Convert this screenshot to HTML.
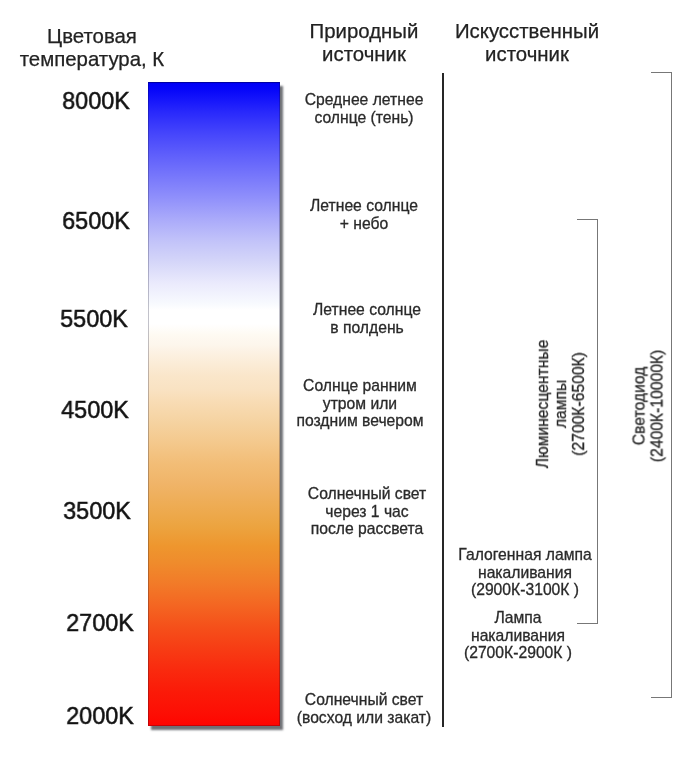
<!DOCTYPE html>
<html><head><meta charset="utf-8">
<style>
html,body{margin:0;padding:0;background:#fff;}
body{width:700px;height:776px;position:relative;overflow:hidden;font-family:"Liberation Sans",sans-serif;color:#1a1a1a;}
.t{will-change:transform;position:absolute;white-space:nowrap;text-align:center;transform:translateX(-50%);}
.h{font-size:20.4px;line-height:23px;color:#222;-webkit-text-stroke:0.25px #222;}
.k{font-size:23.5px;line-height:24px;color:#111;-webkit-text-stroke:0.5px #111;transform:translateX(-50%) scaleX(0.995);}
.m{font-size:15.7px;line-height:17.5px;color:#2a2a2a;-webkit-text-stroke:0.3px #2a2a2a;}
#bar{position:absolute;left:148px;top:82px;width:132px;height:644px;
 background:linear-gradient(to bottom,#0000f8 0px,#0404f9 6px,#1616fb 18px,#2a2afb 31px,#4646fb 52px,#6060fb 74px,#7878fb 95px,#9090fb 116px,#ababfa 138px,#c3c4f9 160px,#d6d7f9 181px,#eaeafc 201px,#f8fafe 222px,#ffffff 228px,#ffffff 242px,#fefaf2 253px,#fdf6ec 263px,#fcf0e0 273px,#fae6ca 294px,#f9e2c2 308px,#f8dcb4 320px,#f5d2a0 341px,#f4c88c 361px,#f2bd76 382px,#f0b468 402px,#eeac54 423px,#eca440 444px,#ee962e 464px,#ef8c2c 480px,#f27a28 502px,#f46622 523px,#f5501a 545px,#f73c14 567px,#f92a0e 588px,#fb1a08 610px,#fd0e04 632px,#ff0400 644px);
 box-shadow:inset 0 0 0 1px rgba(0,0,30,0.22), inset 0 1px 1px rgba(0,0,40,0.25), 3px 3.5px 2px rgba(55,58,65,0.72);}
#vl{position:absolute;left:441.7px;top:73px;width:2.2px;height:654px;background:#262626;}
.br{position:absolute;border:1.5px solid #777;border-left:none;box-sizing:border-box;}
.rot{will-change:transform;position:absolute;white-space:nowrap;text-align:center;transform:translate(-50%,-50%) rotate(-90deg);font-size:15.7px;line-height:17.5px;color:#2a2a2a;-webkit-text-stroke:0.3px #2a2a2a;}
</style></head><body>
<div class="t h" style="left:92px;top:25px;">Цветовая<br>температура, К</div>
<div class="t h" style="left:364px;top:20px;">Природный<br>источник</div>
<div class="t h" style="left:527px;top:20px;">Искусственный<br>источник</div>

<div id="bar"></div>
<div id="vl"></div>

<div class="t k" style="left:96px;top:89px;">8000K</div>
<div class="t k" style="left:96px;top:209px;">6500K</div>
<div class="t k" style="left:94px;top:307px;">5500K</div>
<div class="t k" style="left:95px;top:398px;">4500K</div>
<div class="t k" style="left:97px;top:499px;">3500K</div>
<div class="t k" style="left:100px;top:611px;">2700K</div>
<div class="t k" style="left:100px;top:704px;">2000K</div>

<div class="t m" style="left:364px;top:91px;">Среднее летнее<br>солнце (тень)</div>
<div class="t m" style="left:364px;top:197px;">Летнее солнце<br>+ небо</div>
<div class="t m" style="left:366.5px;top:300.5px;">Летнее солнце<br>в полдень</div>
<div class="t m" style="left:360px;top:377px;">Солнце ранним<br>утром или<br>поздним вечером</div>
<div class="t m" style="left:367px;top:485px;">Солнечный свет<br>через 1 час<br>после рассвета</div>
<div class="t m" style="left:364px;top:691px;">Солнечный свет<br>(восход или закат)</div>

<div class="t m" style="left:525px;top:546px;">Галогенная лампа<br>накаливания<br>(2900К-3100К )</div>
<div class="t m" style="left:518px;top:609px;">Лампа<br>накаливания<br>(2700К-2900К )</div>

<div class="br" style="left:577px;top:219px;width:21px;height:405px;"></div>
<div class="br" style="left:651px;top:72px;width:21px;height:626px;"></div>

<div class="rot" style="left:560.5px;top:403.5px;line-height:18px;">Люминесцентные<br>лампы<br>(2700К-6500К)</div>
<div class="rot" style="left:648px;top:406px;">Светодиод<br>(2400К-10000К)</div>
</body></html>
